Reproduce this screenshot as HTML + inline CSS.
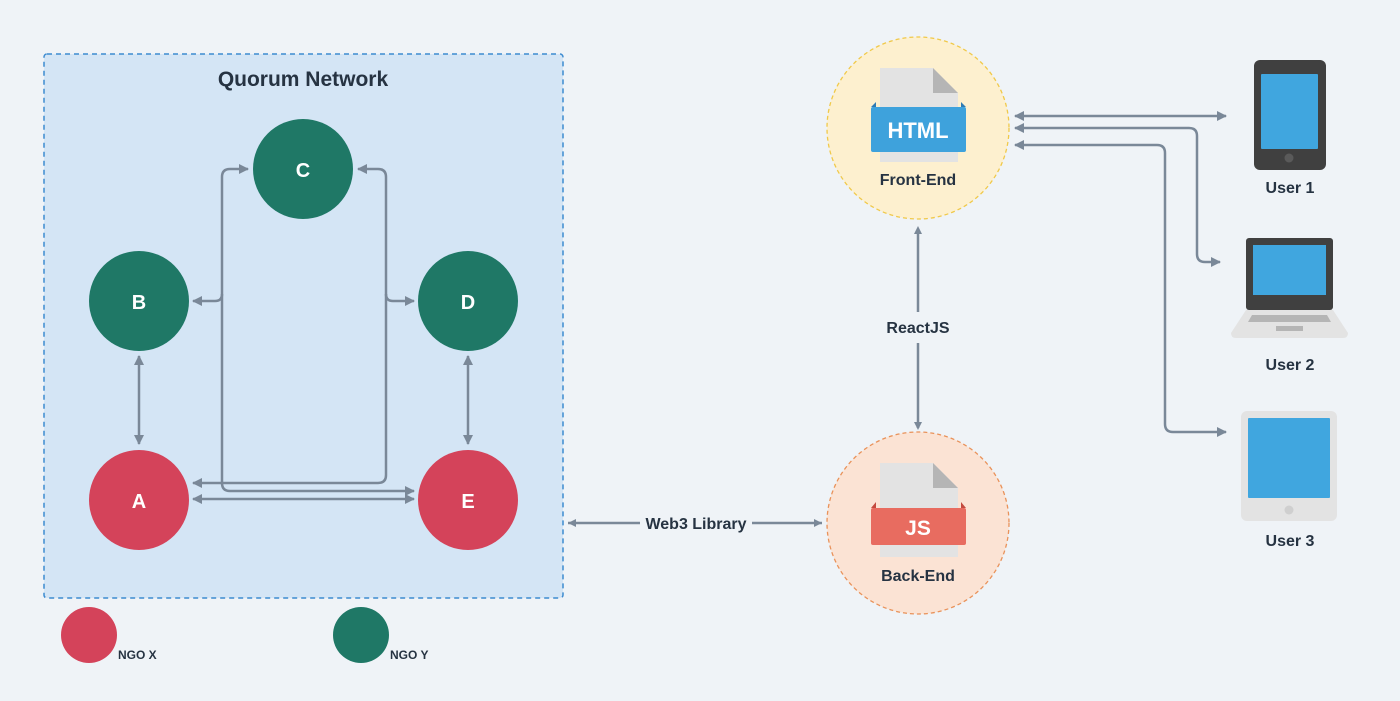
<!DOCTYPE html>
<html><head><meta charset="utf-8"><style>
html,body{margin:0;padding:0;background:#eff3f7;}
svg{display:block;}
text{font-family:"Liberation Sans",sans-serif;font-weight:bold;}
</style></head><body>
<svg width="1400" height="701" viewBox="0 0 1400 701" xmlns="http://www.w3.org/2000/svg">
<defs>
<marker id="ah" viewBox="0 0 10 10" refX="9" refY="5" markerWidth="4" markerHeight="4" orient="auto-start-reverse">
<path d="M0,0 L10,5 L0,10 z" fill="#7a8898"/></marker>
</defs>
<rect width="1400" height="701" fill="#eff3f7"/>
<rect x="44" y="54" width="519" height="544" rx="3" fill="#d4e5f5" stroke="#3d8bd0" stroke-width="1.5" stroke-dasharray="5,4"/>
<text x="303" y="86" font-size="21" fill="#263342" text-anchor="middle">Quorum Network</text>

<g fill="none" stroke="#7a8898" stroke-width="2.5">
<path d="M248,169 H230 Q222,169 222,177 V483 Q222,491 230,491 H414" marker-start="url(#ah)" marker-end="url(#ah)"/>
<path d="M358,169 H378 Q386,169 386,177 V475 Q386,483 378,483 H193" marker-start="url(#ah)" marker-end="url(#ah)"/>
<path d="M193,301 H215 Q222,301 222,294" marker-start="url(#ah)"/>
<path d="M414,301 H393 Q386,301 386,294" marker-start="url(#ah)"/>
<path d="M193,499 H414" marker-start="url(#ah)" marker-end="url(#ah)"/>
<path d="M139,356 V444" marker-start="url(#ah)" marker-end="url(#ah)"/>
<path d="M468,356 V444" marker-start="url(#ah)" marker-end="url(#ah)"/>
<path d="M568,523 H640 M752,523 H822" />
<path d="M918,230 V312 M918,343 V428"/>
<path d="M1015,116 H1226" marker-start="url(#ah)" marker-end="url(#ah)"/>
<path d="M1015,128 H1189 Q1197,128 1197,136 V254 Q1197,262 1205,262 H1220" marker-start="url(#ah)" marker-end="url(#ah)"/>
<path d="M1015,145 H1157 Q1165,145 1165,153 V424 Q1165,432 1173,432 H1226" marker-start="url(#ah)" marker-end="url(#ah)"/>
</g>
<g fill="#7a8898">
<path d="M568,523 l8,-4 v8z"/><path d="M822,523 l-8,-4 v8z"/>
<path d="M918,226 l-4,8 h8z"/><path d="M918,430 l-4,-8 h8z"/>
</g>
<text x="696" y="529" font-size="16" fill="#263342" text-anchor="middle">Web3 Library</text>
<text x="918" y="333" font-size="16" fill="#263342" text-anchor="middle">ReactJS</text>

<g text-anchor="middle" font-size="20" fill="#fff">
<circle cx="303" cy="169" r="50" fill="#1f7866"/><text x="303" y="177" fill="#fff">C</text>
<circle cx="139" cy="301" r="50" fill="#1f7866"/><text x="139" y="309" fill="#fff">B</text>
<circle cx="468" cy="301" r="50" fill="#1f7866"/><text x="468" y="309" fill="#fff">D</text>
<circle cx="139" cy="500" r="50" fill="#d4435a"/><text x="139" y="508" fill="#fff">A</text>
<circle cx="468" cy="500" r="50" fill="#d4435a"/><text x="468" y="508" fill="#fff">E</text>
</g>

<circle cx="89" cy="635" r="28" fill="#d4435a"/>
<text x="118" y="659" font-size="12" fill="#263342">NGO X</text>
<circle cx="361" cy="635" r="28" fill="#1f7866"/>
<text x="390" y="659" font-size="12" fill="#263342">NGO Y</text>

<!-- Front-end -->
<circle cx="918" cy="128" r="91" fill="#fdf0cf" stroke="#f0c94a" stroke-width="1.3" stroke-dasharray="4,3"/>
<path d="M880,68 H933 L958,93 V162 H880 Z" fill="#e3e3e3"/>
<path d="M933,68 L958,93 H933 Z" fill="#b5b5b5"/>
<path d="M871,107 L876,102 V107 Z M966,107 L961,102 V107 Z" fill="#2e7bb4"/>
<rect x="871" y="107" width="95" height="45" rx="2" fill="#3ea2dc"/>
<text x="918" y="138" font-size="22" fill="#fff" text-anchor="middle">HTML</text>
<text x="918" y="185" font-size="16" fill="#263342" text-anchor="middle">Front-End</text>

<!-- Back-end -->
<circle cx="918" cy="523" r="91" fill="#fbe3d4" stroke="#e9925a" stroke-width="1.3" stroke-dasharray="4,3"/>
<path d="M880,463 H933 L958,488 V557 H880 Z" fill="#e3e3e3"/>
<path d="M933,463 L958,488 H933 Z" fill="#b5b5b5"/>
<path d="M871,508 L876,502 V508 Z M966,508 L961,502 V508 Z" fill="#c44a3e"/>
<rect x="871" y="508" width="95" height="37" rx="2" fill="#e86c60"/>
<text x="918" y="535" font-size="21" fill="#fff" text-anchor="middle">JS</text>
<text x="918" y="581" font-size="16" fill="#263342" text-anchor="middle">Back-End</text>

<!-- User1 phone -->
<rect x="1254" y="60" width="72" height="110" rx="6" fill="#404040"/>
<rect x="1261" y="74" width="57" height="75" rx="1" fill="#40a6df"/>
<circle cx="1289" cy="158" r="4.5" fill="#5a5a5a"/>
<text x="1290" y="193" font-size="16" fill="#263342" text-anchor="middle">User 1</text>

<!-- User2 laptop -->
<rect x="1246" y="238" width="87" height="72" rx="3" fill="#404040"/>
<rect x="1253" y="245" width="73" height="50" fill="#40a6df"/>
<path d="M1246,310 H1333 L1348,333 Q1348,338 1343,338 H1236 Q1231,338 1231,333 Z" fill="#e3e3e3"/>
<path d="M1252,315 H1327 L1331,322 H1248 Z" fill="#b5b5b5"/>
<rect x="1276" y="326" width="27" height="5" fill="#b5b5b5"/>
<text x="1290" y="370" font-size="16" fill="#263342" text-anchor="middle">User 2</text>

<!-- User3 tablet -->
<rect x="1241" y="411" width="96" height="110" rx="6" fill="#e3e3e3"/>
<rect x="1248" y="418" width="82" height="80" rx="1" fill="#40a6df"/>
<circle cx="1289" cy="510" r="4.5" fill="#cfcfcf"/>
<text x="1290" y="546" font-size="16" fill="#263342" text-anchor="middle">User 3</text>
</svg>
</body></html>
